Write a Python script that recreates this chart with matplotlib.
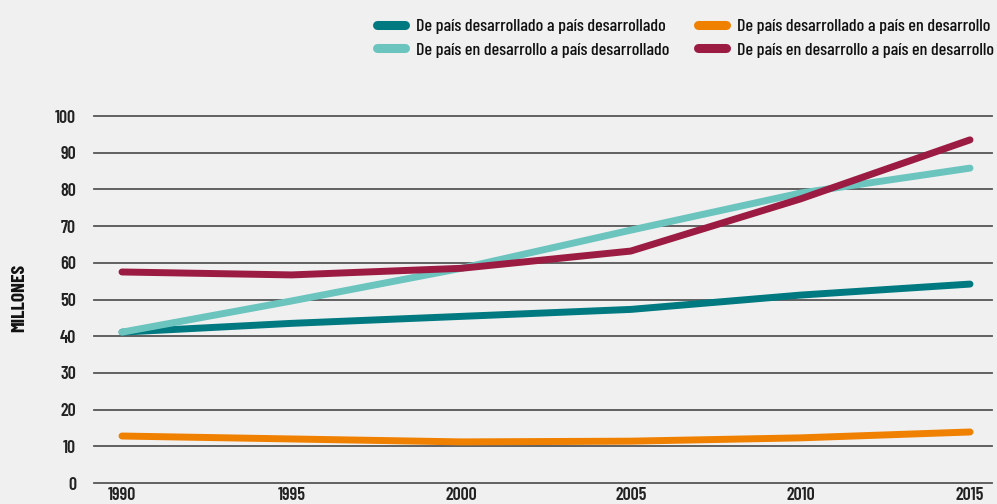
import matplotlib
matplotlib.use("Agg")
import matplotlib.pyplot as plt

years = [1990, 1995, 2000, 2005, 2010, 2015]
dev_to_dev = [41.1, 43.5, 45.4, 47.3, 51.2, 54.2]
dev_to_devg = [12.8, 12.0, 11.2, 11.4, 12.3, 13.9]
devg_to_dev = [41.1, 49.6, 58.5, 68.9, 79.0, 85.8]
devg_to_devg = [57.5, 56.7, 58.5, 63.2, 77.4, 93.5]

series_labels = [
    "De país desarrollado a país desarrollado",
    "De país desarrollado a país en desarrollo",
    "De país en desarrollo a país desarrollado",
    "De país en desarrollo a país en desarrollo",
]
colors = ["#007a80", "#f08000", "#6cc4bf", "#9b1b42"]
yticks = [0, 10, 20, 30, 40, 50, 60, 70, 80, 90, 100]
ylabel = "MILLONES"

plt.rcParams["font.family"] = ["Barlow Condensed", "DejaVu Sans"]

bg = "#f0f0f0"
fig = plt.figure(figsize=(9.97, 5.04), dpi=100, facecolor=bg)
W, H = 997, 504
ax = fig.add_axes([94 / W, (504 - 483) / H, (992 - 94) / W, (483 - 116) / H])
ax.set_facecolor(bg)

pxyear = (970 - 122) / 25
ax.set_xlim(1990 - 28 / pxyear, 2015 + 22 / pxyear)
ax.set_ylim(0, 100)

for t in yticks:
    ax.axhline(t, color="#555555", lw=1.3, clip_on=False, zorder=1)

data = [dev_to_dev, dev_to_devg, devg_to_dev, devg_to_devg]
order = [0, 2, 1, 3]
handles = {}
for i in [1, 0, 2, 3]:
    ln, = ax.plot(years, data[i], color=colors[i], lw=5, solid_capstyle="round",
                  label=series_labels[i], zorder=3, clip_on=False)
    handles[i] = ln

for s in ax.spines.values():
    s.set_visible(False)
ax.set_yticks(yticks)
ax.set_yticklabels([str(t) for t in yticks], fontsize=13, fontweight=600, color="#222222")
ax.set_xticks(years)
ax.set_xticklabels([str(y) for y in years], fontsize=13, fontweight=600, color="#222222")
ax.tick_params(axis="both", length=0)
ax.tick_params(axis="y", pad=13)
ax.tick_params(axis="x", pad=3)

fig.text(20 / W, 1 - 298 / H, ylabel, rotation=90, ha="center", va="center",
         fontsize=14, fontweight="bold", color="#111111")

leg = fig.legend([handles[i] for i in order], [series_labels[i] for i in order],
                 ncol=2, loc="upper right", bbox_to_anchor=(1.012, 0.994),
                 frameon=False, handlelength=1.55, handletextpad=0.6,
                 columnspacing=1.6, labelspacing=0.45, borderaxespad=0.45,
                 prop={"family": ["Barlow Condensed", "DejaVu Sans"], "size": 13, "weight": 500})
for l in leg.get_lines():
    l.set_linewidth(6.5)
    l.set_solid_capstyle("round")
for t in leg.get_texts():
    t.set_color("#111111")

fig.savefig("out.png", dpi=100, facecolor=bg)
